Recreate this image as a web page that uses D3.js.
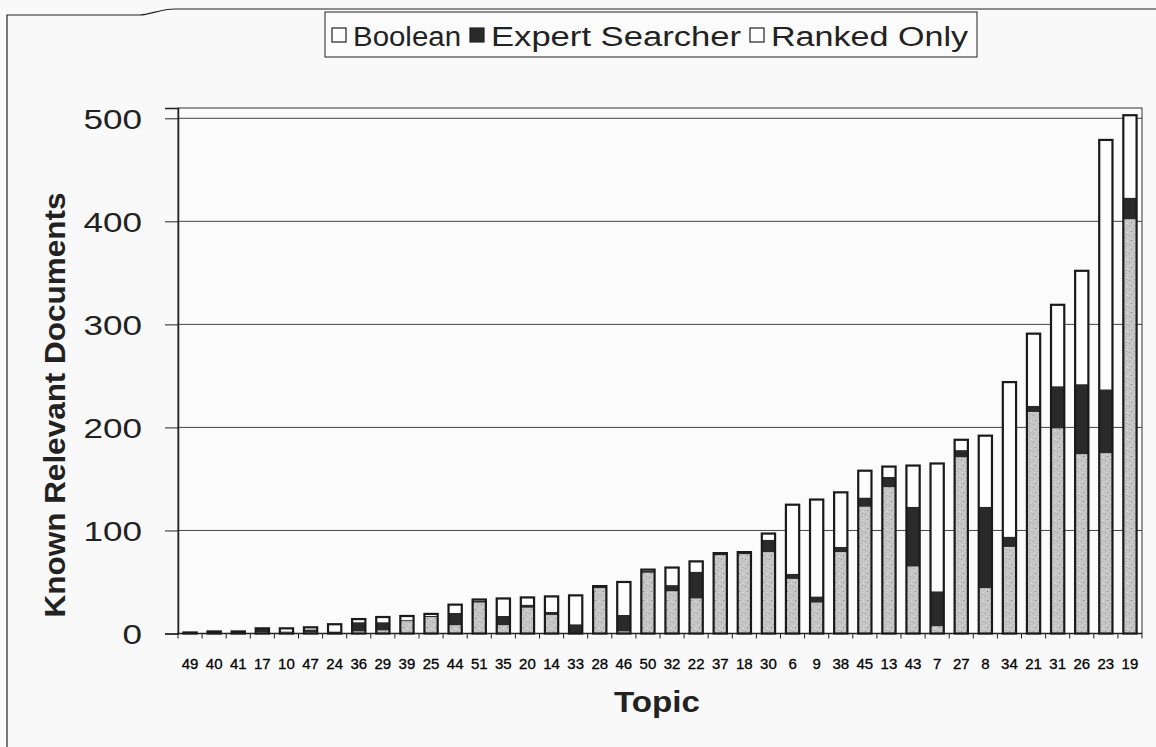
<!DOCTYPE html>
<html><head><meta charset="utf-8">
<script src="https://cdn.jsdelivr.net/npm/d3@7"></script>
<style>
html,body{margin:0;padding:0;background:#f9f9f9;}
svg{display:block;font-family:"Liberation Sans",Arial,sans-serif;}
</style></head>
<body><svg id="c" width="1156" height="747"></svg>
<script>
const topics = ["49","40","41","17","10","47","24","36","29","39","25","44","51","35","20","14","33","28","46","50","32","22","37","18","30","6","9","38","45","13","43","7","27","8","34","21","31","26","23","19"];
const booleanVals = [0,0,0,1,1,1,0,2,3,12,16,8,30,8,25,18,0,44,2,59,41,34,76,77,79,53,30,79,123,142,65,7,171,44,84,215,199,174,175,402];
const expertVals  = [1,1,1,4,1,3,2,9,8,1,1,12,2,9,3,3,9,2,16,2,6,26,2,2,12,5,6,5,9,10,58,34,7,79,10,6,41,68,62,21];
const rankedVals  = [0,1,1,0,3,2,7,3,5,4,2,8,1,17,7,15,28,0,32,1,17,10,0,0,6,67,94,53,26,10,40,124,10,69,150,70,79,110,242,80];
const seriesNames = ["Boolean","Expert Searcher","Ranked Only"];
const yTicks = [0,100,200,300,400,500];

const data = topics.map((t,i)=>({topic:t, Boolean:booleanVals[i], "Expert Searcher":expertVals[i], "Ranked Only":rankedVals[i]}));
const svg = d3.select("#c");

// pattern for stippled boolean fill
const defs = svg.append("defs");
const pat = defs.append("pattern").attr("id","stip").attr("patternUnits","userSpaceOnUse").attr("width",8).attr("height",9);
pat.append("rect").attr("width",8).attr("height",9).attr("fill","#c6c6c6");
[[1,1,"#8e8e8e"],[5,3,"#a8a8a8"],[3,6,"#7c7c7c"],[7,7,"#e2e2e2"],[2,4,"#dedede"],[6,0,"#a0a0a0"]].forEach(d=>{
  pat.append("rect").attr("x",d[0]).attr("y",d[1]).attr("width",1).attr("height",1).attr("fill",d[2]);
});

// outer frame
svg.append("path").attr("d","M7,760 L7,15 L140,15 C150,15 160,9 175,9 L1156,9")
  .attr("fill","none").attr("stroke","#222").attr("stroke-width",1.2);

const L=178, R=1142, T=108, B=633.5;
const x = d3.scaleBand().domain(topics).range([L,R]).paddingInner(0.45).paddingOuter(0.225);
const y = d3.scaleLinear().domain([0,510]).range([B,T]);

// plot area
svg.append("rect").attr("x",L).attr("y",T).attr("width",R-L).attr("height",B-T)
  .attr("fill","#fbfbfb").attr("stroke","#333").attr("stroke-width",1);

// gridlines
svg.append("g").selectAll("line").data(yTicks.filter(d=>d>0)).join("line")
  .attr("x1",L).attr("x2",R).attr("y1",d=>y(d)).attr("y2",d=>y(d))
  .attr("stroke","#444").attr("stroke-width",1);

// y axis
const yAxis = svg.append("g").attr("transform",`translate(${L},0)`)
  .call(d3.axisLeft(y).tickValues(yTicks).tickSize(13).tickPadding(23));
yAxis.select(".domain").attr("stroke","#222").attr("stroke-width",1.5);
yAxis.selectAll(".tick line").attr("stroke","#222");
yAxis.selectAll("text").attr("font-size",28).attr("fill","#222").attr("dy","0.36em")
  .attr("font-family","Liberation Sans, Arial, sans-serif")
  .attr("textLength",d=>String(d).length*19.5).attr("lengthAdjust","spacingAndGlyphs");

// x axis
const xAxisG = svg.append("g");
xAxisG.append("line").attr("x1",L).attr("x2",R).attr("y1",B).attr("y2",B).attr("stroke","#222").attr("stroke-width",1.5);
xAxisG.selectAll("line.tk").data(d3.range(topics.length+1)).join("line").attr("class","tk")
  .attr("x1",i=>L+i*(R-L)/topics.length).attr("x2",i=>L+i*(R-L)/topics.length)
  .attr("y1",B).attr("y2",B+5).attr("stroke","#222");
xAxisG.selectAll("text").data(topics).join("text")
  .attr("x",d=>x(d)+x.bandwidth()/2).attr("y",B+35)
  .attr("text-anchor","middle").attr("font-size",15).attr("fill","#000")
  .attr("stroke","#000").attr("stroke-width",0.3).text(d=>d);

// stacked bars
const stack = d3.stack().keys(seriesNames)(data);
const fills = {"Boolean":"url(#stip)","Expert Searcher":"#2a2a2a","Ranked Only":"#fdfdfd"};
const gBars = svg.append("g");
stack.forEach(s=>{
  gBars.append("g").selectAll("rect").data(s).join("rect")
    .attr("x",d=>x(d.data.topic)).attr("width",x.bandwidth())
    .attr("y",d=>y(d[1])).attr("height",d=>Math.max(0,y(d[0])-y(d[1])))
    .attr("fill",fills[s.key]).attr("stroke","none");
});
const tot = d=>d.Boolean+d["Expert Searcher"]+d["Ranked Only"];
gBars.append("g").selectAll("rect").data(data).join("rect")
  .attr("x",d=>x(d.topic)).attr("width",x.bandwidth())
  .attr("y",d=>y(tot(d))).attr("height",d=>y(0)-y(tot(d)))
  .attr("fill","none").attr("stroke","#1a1a1a").attr("stroke-width",2.2);

// axis titles
svg.append("text").attr("transform","translate(65,405) rotate(-90)").attr("text-anchor","middle")
  .attr("font-size",29).attr("font-weight","bold").attr("fill","#222")
  .attr("textLength",425).attr("lengthAdjust","spacingAndGlyphs").text("Known Relevant Documents");
svg.append("text").attr("x",657).attr("y",712).attr("text-anchor","middle")
  .attr("font-size",29).attr("font-weight","bold").attr("fill","#222")
  .attr("textLength",86).attr("lengthAdjust","spacingAndGlyphs").text("Topic");

// legend
const lg = svg.append("g");
lg.append("rect").attr("x",325).attr("y",12).attr("width",652).attr("height",45)
  .attr("fill","#fbfbfb").attr("stroke","#222").attr("stroke-width",1);
const legendFills = ["#fdfdfd","#2a2a2a","#fdfdfd"];
const legendX = [332,470,750];
const legendTextLen = [108,250,197];
seriesNames.forEach((n,i)=>{
  lg.append("rect").attr("x",legendX[i]).attr("y",28).attr("width",14).attr("height",14)
    .attr("fill",legendFills[i]).attr("stroke","#222").attr("stroke-width",1.2);
  lg.append("text").attr("x",legendX[i]+21).attr("y",46).attr("font-size",27).attr("fill","#222")
    .attr("textLength",legendTextLen[i]).attr("lengthAdjust","spacingAndGlyphs").text(n);
});
</script></body></html>
